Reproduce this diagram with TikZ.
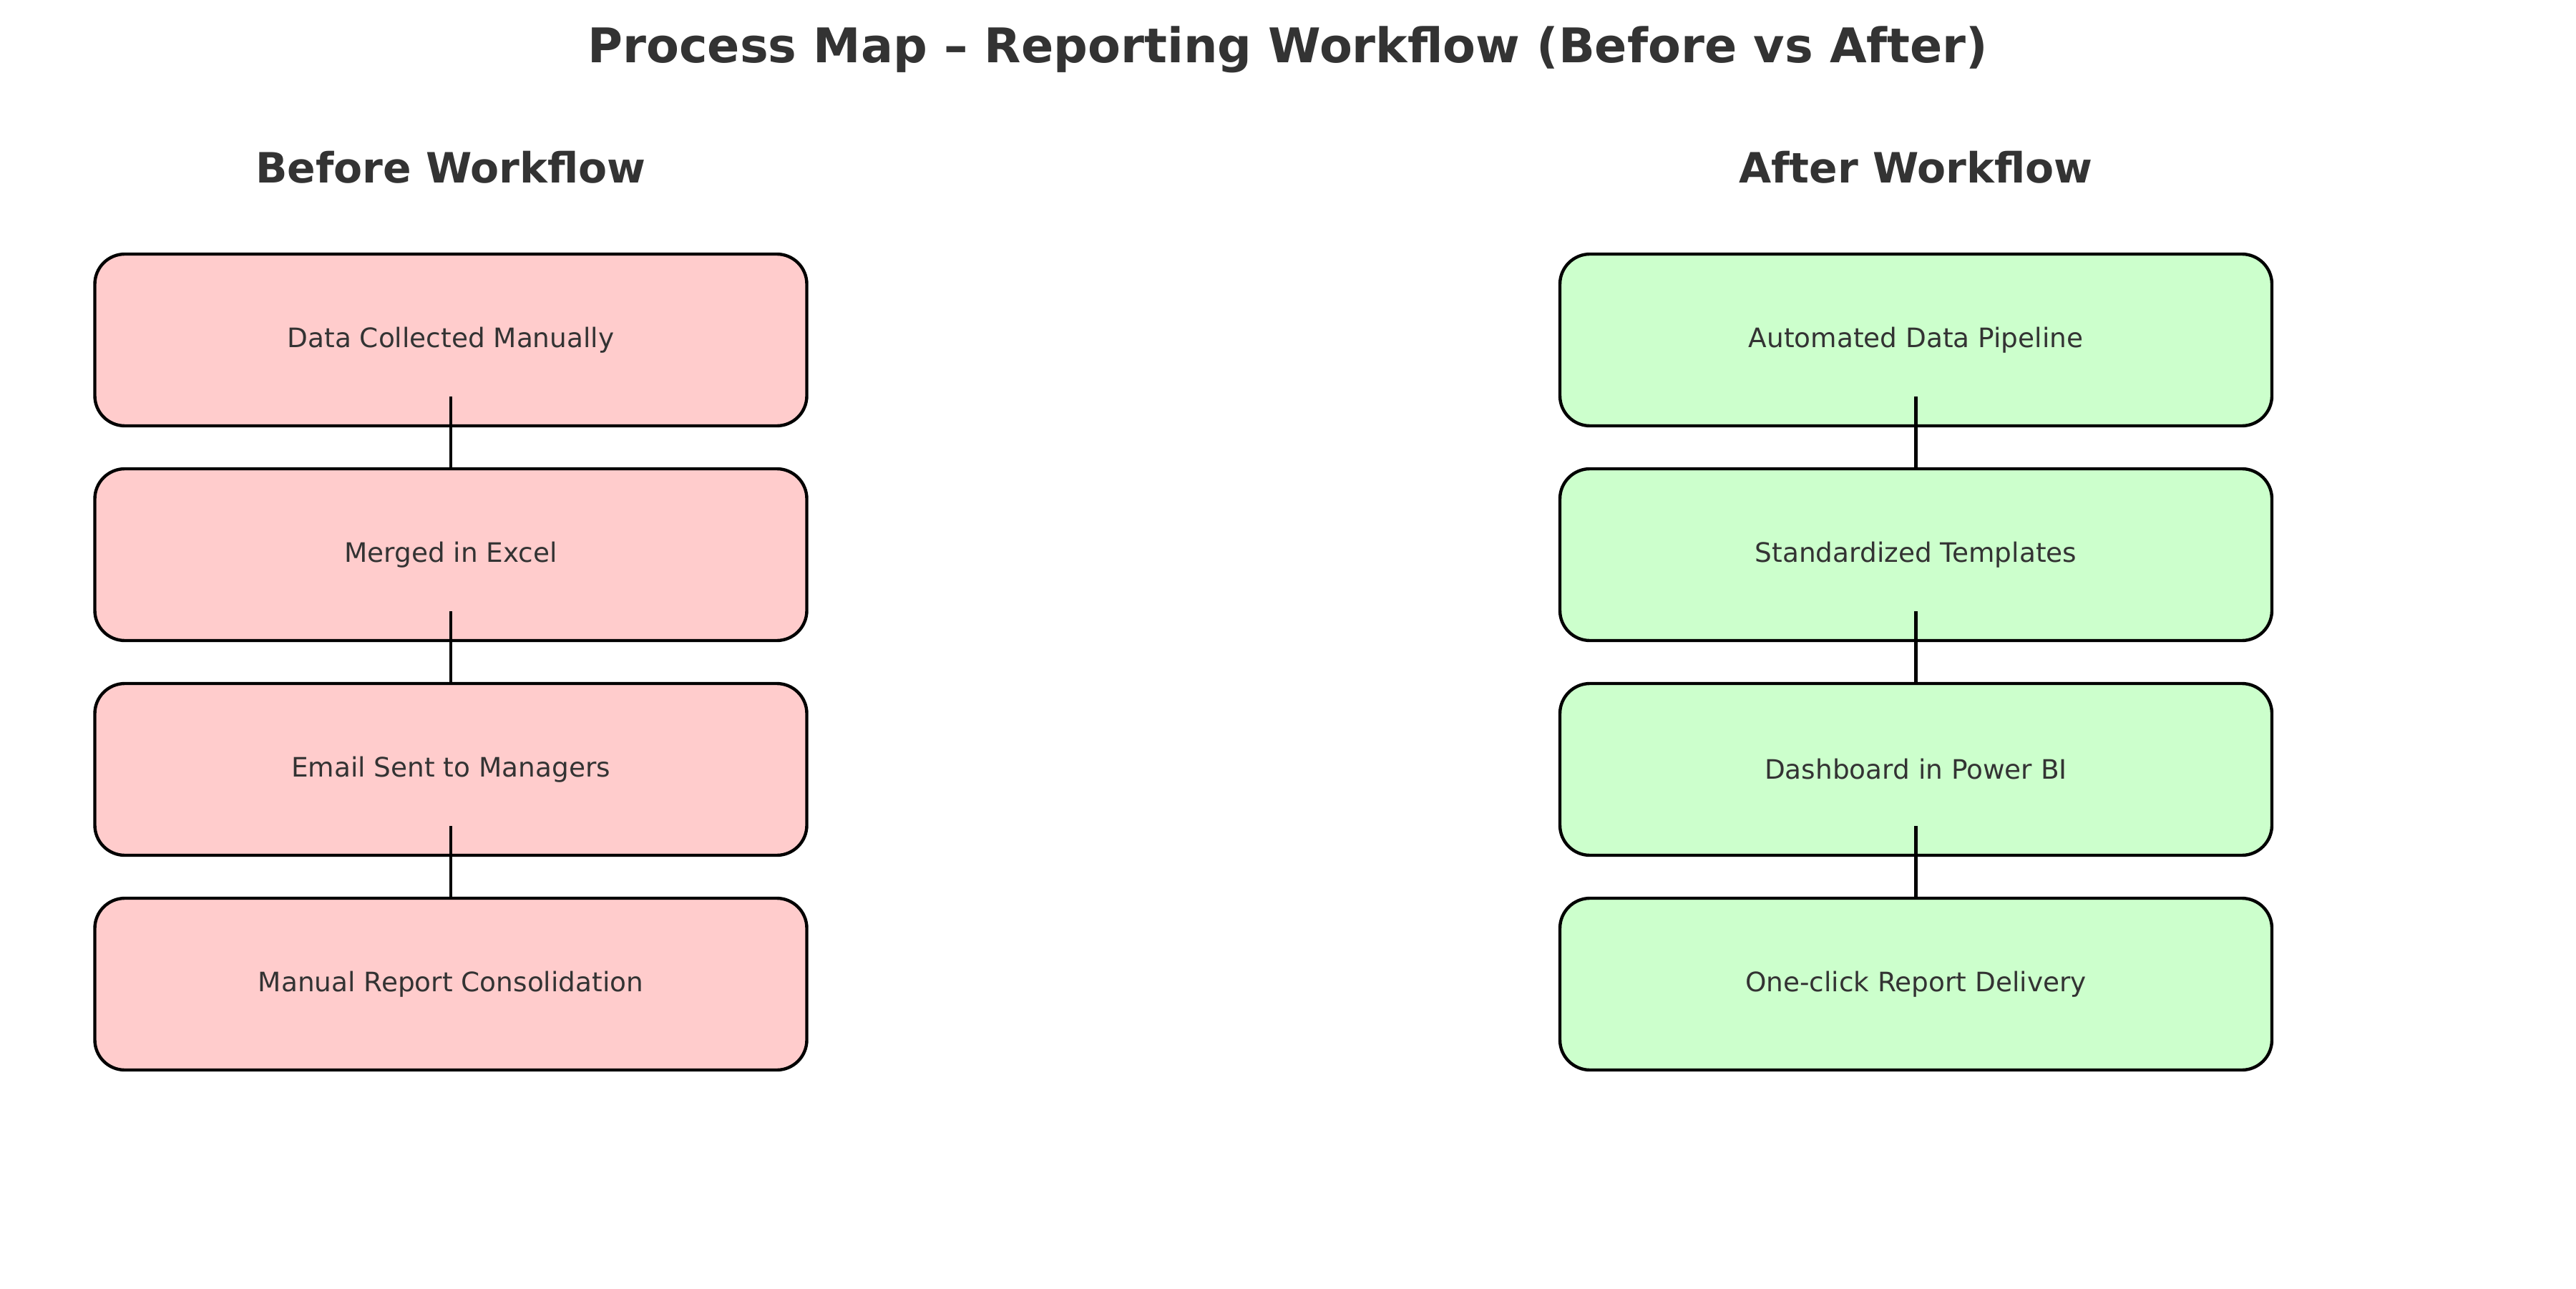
\documentclass[tikz,border=0pt]{standalone}
\usepackage{fontspec}
\setmainfont{DejaVu Sans}
\usetikzlibrary{positioning}
\definecolor{textgray}{RGB}{51,51,51}
\definecolor{beforefill}{RGB}{255,204,204}
\definecolor{afterfill}{RGB}{204,255,204}

\begin{document}
\begin{tikzpicture}[
  stepbox/.style={draw=black, line width=1.25pt, rounded corners=0.42cm, minimum width=9.95cm, minimum height=2.4cm, inner sep=0pt, text=textgray, font=\fontsize{10.65}{13}\selectfont},
  beforebox/.style={stepbox, fill=beforefill},
  afterbox/.style={stepbox, fill=afterfill},
  heading/.style={anchor=base, text=textgray, font=\bfseries\fontsize{16.6}{20}\selectfont},
  link/.style={line width=1.25pt}
]
  % Page frame
  \useasboundingbox (0,0) rectangle (36,18);

  % Title and column headings
  \node[anchor=base, text=textgray, font=\bfseries\fontsize{19}{23}\selectfont] (title) at (18,17.12) {Process Map – Reporting Workflow (Before vs After)};
  \node[heading] (beforehead) at (6.3,15.44) {Before Workflow};
  \node[heading] (afterhead) at (26.775,15.44) {After Workflow};

  % Before workflow steps
  \node[beforebox] (collect) at (6.3,13.25) {Data Collected Manually};
  \node[beforebox] (merge) at (6.3,10.25) {Merged in Excel};
  \node[beforebox] (email) at (6.3,7.25) {Email Sent to Managers};
  \node[beforebox] (consol) at (6.3,4.25) {Manual Report Consolidation};

  % After workflow steps
  \node[afterbox] (pipeline) at (26.775,13.25) {Automated Data Pipeline};
  \node[afterbox] (templates) at (26.775,10.25) {Standardized Templates};
  \node[afterbox] (dashboard) at (26.775,7.25) {Dashboard in Power BI};
  \node[afterbox] (delivery) at (26.775,4.25) {One-click Report Delivery};

  % Connectors
  \draw[link] ([yshift=0.43cm]collect.south) -- (merge.north);
  \draw[link] ([yshift=0.43cm]merge.south) -- (email.north);
  \draw[link] ([yshift=0.43cm]email.south) -- (consol.north);
  \draw[link] ([yshift=0.43cm]pipeline.south) -- (templates.north);
  \draw[link] ([yshift=0.43cm]templates.south) -- (dashboard.north);
  \draw[link] ([yshift=0.43cm]dashboard.south) -- (delivery.north);
\end{tikzpicture}
\end{document}
